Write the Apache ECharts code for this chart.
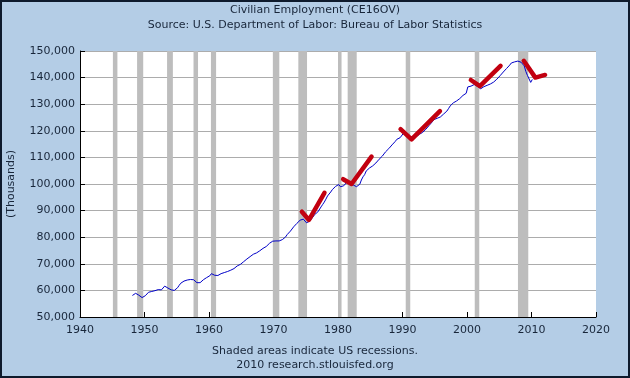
<!DOCTYPE html>
<html>
<head>
<meta charset="utf-8">
<script src="https://cdn.jsdelivr.net/npm/echarts@6/dist/echarts.min.js"></script>
<style>
  html, body { margin: 0; padding: 0; }
  #chart { width: 630px; height: 378px; }
</style>
</head>
<body>
<div id="chart"></div>
<script>
// Civilian employment, thousands, quarterly from 1948 Q1
const startYear = 1948;
const employment = [
  58100, 58600, 58900, 58900,
  58200, 57700, 57300, 57500,
  58000, 58700, 59300, 59400,
  59600, 59900, 59900, 60000,
  60300, 60000, 60200, 60700,
  61600, 61500, 60900, 60300,
  60200, 60000, 60000, 60300,
  61000, 61900, 62700, 63000,
  63500, 63800, 63900, 63700,
  64100, 64200, 64000, 63400,
  62900, 62600, 62900, 63300,
  64000, 64600, 64800, 64900,
  65500, 66300, 65900, 65700,
  65600, 65600, 65800, 66300,
  66400, 66700, 67000, 67100,
  67400, 67600, 67900, 68200,
  68700, 69200, 69500, 69800,
  70300, 70800, 71400, 71800,
  72200, 72700, 73200, 73600,
  73900, 74100, 74600, 74900,
  75200, 75800, 76100, 76500,
  77200, 77700, 78100, 78500,
  78600, 78600, 78600, 78600,
  78800, 79100, 79500, 80100,
  81000, 81600, 82300, 83000,
  83900, 84600, 85200, 85900,
  86400, 86600, 86800, 86300,
  85400, 85600, 86100, 86700,
  87600, 88500, 89000, 89500,
  90200, 91400, 92300, 93200,
  94300, 95500, 96200, 97000,
  97900, 98500, 99100, 99600,
  99800, 99000, 98900, 99300,
  100000, 100700, 100800, 100000,
  99700, 99600, 99400, 99000,
  99200, 99900, 101500, 102700,
  103500, 104900, 105400, 106000,
  106400, 106800, 107200, 107900,
  108500, 109300, 109900, 110500,
  111300, 112100, 112800, 113300,
  113900, 114700, 115200, 116000,
  116800, 117200, 117400, 117700,
  119000, 119000, 118600, 118300,
  117900, 117900, 117600, 117500,
  117800, 118300, 118700, 118800,
  119400, 120000, 120600, 121100,
  122000, 122700, 123400, 124200,
  124600, 124700, 125000, 125200,
  125800, 126300, 127000, 127400,
  128300, 129300, 129900, 130500,
  130900, 131200, 131500, 132100,
  132700, 133300, 133500, 134100,
  136500, 136600, 136800, 137100,
  137400, 136900, 136700, 136200,
  135800, 136300, 136600, 136400,
  137100, 137400, 137600, 138100,
  138300, 139000, 139400, 140000,
  140700, 141300, 142100, 142600,
  143400, 143900, 144700, 145500,
  146200, 145900, 146000, 146200,
  146100, 145800, 145200, 144400,
  142300, 140800, 140100, 138200,
  139300
];

// NBER recessions (decimal years)
const recessionStart = [1945.1, 1948.85, 1953.5, 1957.6, 1960.3, 1969.9, 1973.85, 1980.0, 1981.5, 1990.5, 2001.2, 2007.9];
const recessionEnd   = [1945.8, 1949.8, 1954.4, 1958.3, 1961.1, 1970.9, 1975.2, 1980.55, 1982.9, 1991.2, 2001.9, 2009.5];

// hand-drawn red check marks: [year, value] points
const check1975 = [[1974.4, 89600], [1975.5, 86500], [1977.9, 96700]];
const check1982 = [[1980.8, 101800], [1982.1, 100000], [1985.2, 110300]];
const check1991 = [[1989.7, 120600], [1991.4, 116800], [1995.8, 127400]];
const check2002 = [[2000.6, 139100], [2002.0, 136800], [2005.2, 144400]];
const check2010 = [[2008.8, 146300], [2010.6, 140000], [2012.1, 141000]];
const checks = [check1975, check1982, check1991, check2002, check2010];

const xTicks = [1940, 1950, 1960, 1970, 1980, 1990, 2000, 2010, 2020];

const textColor = '#18263a';
const fontFamily = '"DejaVu Sans", Verdana, sans-serif';

const lineData = employment.map((v, i) => [startYear + i * 0.25 + 0.125, v]);
const recessionAreas = recessionStart.map((s, i) => [{ xAxis: s }, { xAxis: recessionEnd[i] }]);

const chart = echarts.init(document.getElementById('chart'));

const series = [{
  type: 'line',
  data: lineData,
  showSymbol: false,
  lineStyle: { color: '#0000c8', width: 1 },
  z: 3,
  animation: false,
  markArea: {
    silent: true,
    itemStyle: { color: '#bdbdbd' },
    data: recessionAreas
  }
}];
checks.forEach(c => {
  series.push({
    type: 'line',
    data: c,
    showSymbol: false,
    lineStyle: { color: '#c20010', width: 4.5, cap: 'round', join: 'round' },
    z: 5,
    animation: false
  });
});

chart.setOption({
  backgroundColor: '#b4cde6',
  animation: false,
  textStyle: { fontFamily: fontFamily },
  title: [
    { text: 'Civilian Employment (CE16OV)', left: 'center', top: 5, padding: 0,
      textStyle: { fontSize: 11, fontWeight: 'normal', color: textColor, fontFamily: fontFamily } },
    { text: 'Source: U.S. Department of Labor: Bureau of Labor Statistics', left: 'center', top: 20, padding: 0,
      textStyle: { fontSize: 11, fontWeight: 'normal', color: textColor, fontFamily: fontFamily } },
    { text: 'Shaded areas indicate US recessions.', left: 'center', top: 346, padding: 0,
      textStyle: { fontSize: 11, fontWeight: 'normal', color: textColor, fontFamily: fontFamily } },
    { text: '2010 research.stlouisfed.org', left: 'center', top: 360, padding: 0,
      textStyle: { fontSize: 11, fontWeight: 'normal', color: textColor, fontFamily: fontFamily } }
  ],
  grid: {
    left: 80, right: 34, top: 51, bottom: 61,
    outerBoundsMode: 'none',
    show: true, backgroundColor: '#ffffff', borderWidth: 0
  },
  xAxis: {
    type: 'value',
    min: 1940, max: 2020, interval: 10,
    axisLine: { show: true, onZero: false, lineStyle: { color: '#000', width: 1 } },
    axisTick: { show: true, inside: true, length: 5, lineStyle: { color: '#000' } },
    axisLabel: { color: textColor, fontSize: 11, margin: 8, formatter: v => xTicks.includes(v) ? String(v) : '' },
    splitLine: { show: false }
  },
  yAxis: {
    type: 'value',
    min: 50000, max: 150000, interval: 10000,
    name: '(Thousands)',
    nameLocation: 'middle',
    nameGap: 63,
    nameTextStyle: { color: textColor, fontSize: 11 },
    axisLine: { show: true, onZero: false, lineStyle: { color: '#000', width: 1 } },
    axisTick: { show: true, inside: true, length: 5, lineStyle: { color: '#000' } },
    axisLabel: { color: textColor, fontSize: 11, margin: 5, formatter: v => v.toLocaleString('en-US') },
    splitLine: { show: true, lineStyle: { color: '#acacac', width: 1 } }
  },
  graphic: [{
    type: 'rect',
    shape: { x: 1, y: 1, width: 628, height: 376 },
    style: { fill: null, stroke: '#0e1a2c', lineWidth: 2 },
    silent: true,
    z: 100
  }],
  series: series
});
</script>
</body>
</html>
